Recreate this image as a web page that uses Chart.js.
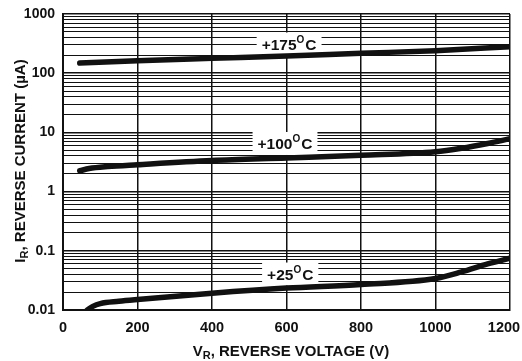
<!DOCTYPE html>
<html><head><meta charset="utf-8">
<script src="https://cdn.jsdelivr.net/npm/chart.js@4/dist/chart.umd.min.js"></script>
<style>html,body{margin:0;padding:0;background:#fff}#wrap{width:522px;height:361px;position:relative}</style>
</head><body><div id="wrap"><canvas id="c" width="522" height="361" style="width:522px;height:361px"></canvas></div>
<script>
// ---- data ----
const xTickValues = [0, 200, 400, 600, 800, 1000, 1200];
const yMajorTicks = [0.01, 0.1, 1, 10, 100, 1000];
const yTickLabels = ['0.01', '0.1', '1', '10', '100', '1000'];

const v175 = [45, 200, 400, 600, 800, 1000, 1200];
const i175 = [148, 162, 178, 195, 217, 240, 280];

const v100 = [45, 70, 120, 200, 400, 600, 800, 1000, 1070, 1140, 1200];
const i100 = [2.25, 2.45, 2.65, 2.85, 3.35, 3.7, 4.1, 4.7, 5.4, 6.5, 7.8];

const v25 = [65, 80, 100, 150, 200, 400, 600, 800, 1000, 1070, 1140, 1200];
const i25 = [0.01, 0.0115, 0.0128, 0.014, 0.015, 0.0192, 0.0235, 0.027, 0.034, 0.044, 0.06, 0.075];

const seriesNames = ['+175', '+100', '+25'];
const labelAtV = [607, 596, 610];
const labelAtI = [311, 6.5, 0.0405];

const xTitle = ['V', 'R', ', REVERSE VOLTAGE (V)'];
const yTitle = ['I', 'R', ', REVERSE CURRENT (\u00B5A)'];

// ---- helpers ----
const FONT = '"Liberation Sans", Arial, Helvetica, sans-serif';
function pts(xs, ys) { return xs.map((x, i) => ({x: x, y: ys[i]})); }
function allLogTicks() {
  const out = [];
  for (let d = 0; d < yMajorTicks.length - 1; d++) {
    for (let k = 1; k <= 9; k++) out.push(Number((yMajorTicks[d] * k).toPrecision(3)));
  }
  out.push(yMajorTicks[yMajorTicks.length - 1]);
  return out;
}
function isMajor(v) { return yMajorTicks.some(m => Math.abs(m - v) / m < 1e-6); }

const labelPlugin = {
  id: 'labels',
  beforeDatasetsDraw(chart) {
    const c = chart.ctx, xs = chart.scales.x, ys = chart.scales.y;
    c.save();
    seriesNames.forEach((name, i) => {
      const cx = xs.getPixelForValue(labelAtV[i]);
      const cy = ys.getPixelForValue(labelAtI[i]);
      c.font = 'bold 15.5px ' + FONT;
      const w1 = c.measureText(name).width;
      c.font = 'bold 10px ' + FONT;
      const w2 = c.measureText('O').width;
      c.font = 'bold 15.5px ' + FONT;
      const w3 = c.measureText('C').width;
      const tw = w1 + w2 + w3 + 1;
      const bw = tw + 10, bh = 23;
      c.fillStyle = '#fff';
      c.fillRect(cx - bw / 2, cy - bh / 2, bw, bh);
      c.fillStyle = '#111';
      c.textBaseline = 'alphabetic';
      c.textAlign = 'left';
      let x = cx - tw / 2;
      const base = cy + 5.5;
      c.fillText(name, x, base); x += w1;
      c.font = 'bold 10px ' + FONT;
      c.fillText('O', x, base - 6.5); x += w2 + 1;
      c.font = 'bold 15.5px ' + FONT;
      c.fillText('C', x, base);
    });
    c.restore();
  },
  afterDraw(chart) {
    const c = chart.ctx, a = chart.chartArea;
    function drawSub(parts, cx, cy) {
      c.font = 'bold 15px ' + FONT;
      const w1 = c.measureText(parts[0]).width;
      const w3 = c.measureText(parts[2]).width;
      c.font = 'bold 11px ' + FONT;
      const w2 = c.measureText(parts[1]).width;
      const tw = w1 + w2 + w3;
      let x = cx - tw / 2;
      c.fillStyle = '#111';
      c.textAlign = 'left';
      c.textBaseline = 'alphabetic';
      c.font = 'bold 15px ' + FONT;
      c.fillText(parts[0], x, cy + 5.5); x += w1;
      c.font = 'bold 11px ' + FONT;
      c.fillText(parts[1], x, cy + 9); x += w2;
      c.font = 'bold 15px ' + FONT;
      c.fillText(parts[2], x, cy + 5.5);
    }
    c.save();
    drawSub(xTitle, 291, 350);
    c.translate(19, 161);
    c.rotate(-Math.PI / 2);
    drawSub(yTitle, 0, 0);
    c.restore();
  }
};

const lineStyle = {borderColor: '#111', borderWidth: 5.5, pointRadius: 0, cubicInterpolationMode: 'monotone', fill: false, borderCapStyle: 'round'};

new Chart(document.getElementById('c'), {
  type: 'line',
  data: {
    datasets: [
      Object.assign({label: seriesNames[0], data: pts(v175, i175)}, lineStyle),
      Object.assign({label: seriesNames[1], data: pts(v100, i100)}, lineStyle),
      Object.assign({label: seriesNames[2], data: pts(v25, i25)}, lineStyle)
    ]
  },
  options: {
    responsive: false,
    animation: false,
    devicePixelRatio: 1,
    layout: {padding: {top: 14, right: 12, left: 0, bottom: 0}},
    plugins: {legend: {display: false}, tooltip: {enabled: false}},
    scales: {
      x: {
        type: 'linear', min: 0, max: 1200,
        afterBuildTicks: s => { s.ticks = xTickValues.map(v => ({value: v})); },
        afterFit: s => { s.height = 51; s.paddingLeft = 0; s.paddingRight = 0; },
        grid: {color: '#111', lineWidth: 1.5, drawTicks: false},
        border: {color: '#111', width: 2},
        ticks: {color: '#111', padding: 9, maxRotation: 0, autoSkip: false, font: {family: FONT, size: 14.5, weight: 'bold'},
          callback: v => (v === xTickValues[xTickValues.length - 1]) ? String(v) + '\u00A0\u00A0\u00A0' : String(v)}
      },
      y: {
        type: 'logarithmic', min: 0.01, max: 1000,
        afterBuildTicks: s => { s.ticks = allLogTicks().map(v => ({value: v, major: isMajor(v)})); },
        afterFit: s => { s.width = 63; s.paddingTop = 0; s.paddingBottom = 0; },
        grid: {
          color: '#111', drawTicks: false,
          lineWidth: ctx => (ctx.tick && isMajor(ctx.tick.value)) ? 1.6 : 1
        },
        border: {color: '#111', width: 2},
        ticks: {
          color: '#111', padding: 8, autoSkip: false,
          font: {family: FONT, size: 14, weight: 'bold'},
          callback: v => { const i = yMajorTicks.findIndex(m => Math.abs(m - v) / m < 1e-6); return i >= 0 ? yTickLabels[i] : ''; }
        }
      }
    }
  },
  plugins: [labelPlugin]
});
</script>
</body></html>
